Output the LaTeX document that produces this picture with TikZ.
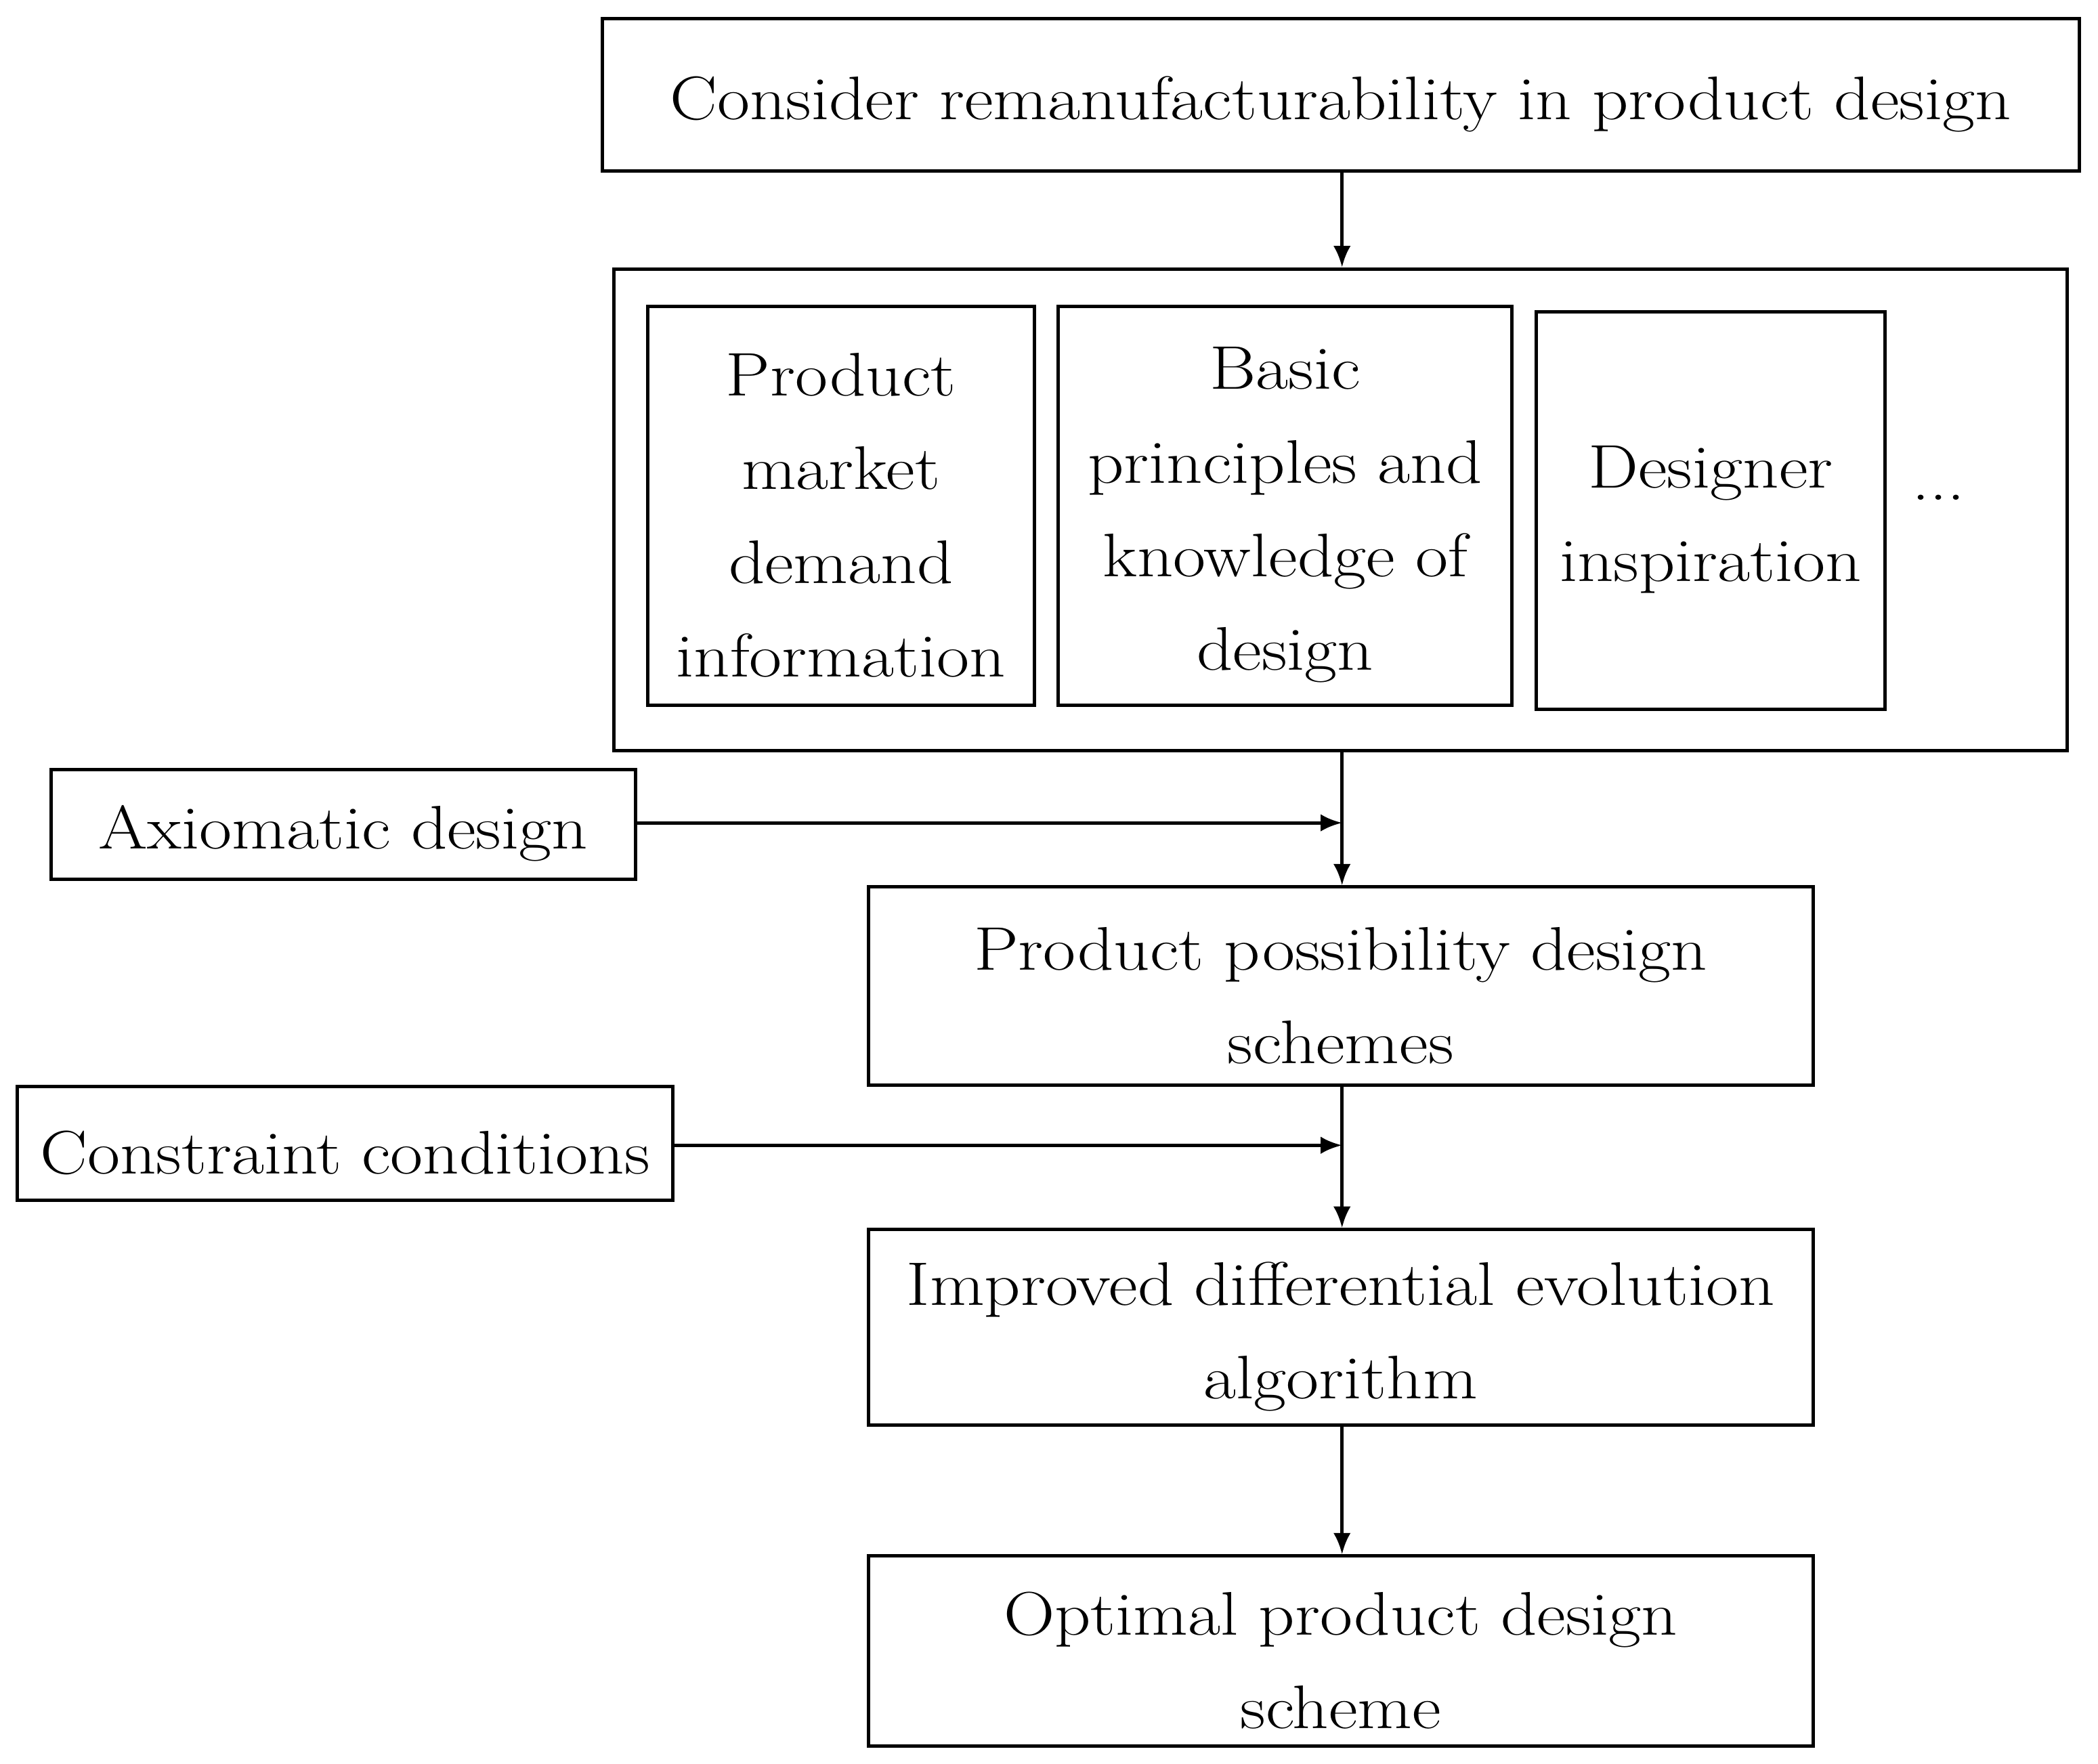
\documentclass[tikz,border=0pt]{standalone}
\usepackage{fontspec}
\setmainfont{Latin Modern Roman}[FakeStretch=1.15]
\usetikzlibrary{arrows.meta}
\begin{document}
\begin{tikzpicture}[x=1pt,y=-1pt,
  box/.style={draw,line width=2.5pt,inner sep=0pt},
  txt/.style={inner sep=0pt,align=center,font=\fontsize{46}{70}\selectfont},
  arr/.style={line width=2.5pt,-{Latex[length=16pt,width=13pt]}}]
\useasboundingbox (0,0) rectangle (1568,1318);
\newcommand{\bx}[6]{\node[box,minimum width=#4-#2,minimum height=#5-#3] (#1) at ({(#2+#4)/2},{(#3+#5)/2}) {};
  \node[txt,text width=#4-#2-6] (#1t) at ({(#2+#4)/2},{(#3+#5)/2+7}) {#6};}
\bx{top}{450}{14}{1554}{128}{Consider remanufacturability in product design}
\bx{outer}{459}{201}{1545}{561}{}
\bx{b1}{484}{229}{773}{527}{Product\\market\\demand\\information}
\bx{b2}{791}{229}{1130}{527}{Basic\\principles and\\knowledge of\\design}
\bx{b3}{1148}{233}{1409}{530}{Designer\\inspiration}
\node[txt] (dots) at (1449,372) {...};
\bx{ax}{38}{575}{475}{657}{Axiomatic design}
\bx{pos}{649}{663}{1355}{811}{Product possibility design\\schemes}
\bx{con}{13}{812}{503}{897}{Constraint conditions}
\bx{imp}{649}{919}{1355}{1065}{Improved differential evolution\\algorithm}
\bx{opt}{649}{1163}{1355}{1305}{Optimal product design\\scheme}
\coordinate (j1) at (1003,615);
\coordinate (j2) at (1003,856);
\draw[arr] (top.south -| j1) -- (outer.north -| j1);
\draw[arr] (outer.south -| j1) -- (pos.north -| j1);
\draw[arr] (ax.east |- j1) -- (j1);
\draw[arr] (pos.south -| j2) -- (imp.north -| j2);
\draw[arr] (con.east |- j2) -- (j2);
\draw[arr] (imp.south -| j2) -- (opt.north -| j2);
\end{tikzpicture}
\end{document}
